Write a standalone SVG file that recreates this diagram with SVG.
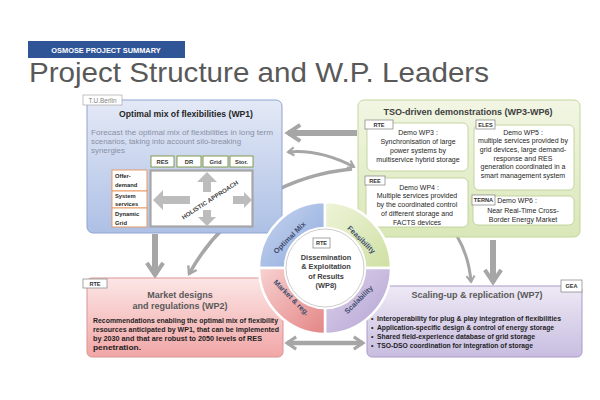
<svg xmlns="http://www.w3.org/2000/svg" width="600" height="400" viewBox="0 0 600 400">
<style>
text{font-family:"Liberation Sans",Arial,sans-serif}
.lbl{fill:#fff;stroke:#7f7f7f;stroke-width:0.7}
.lt{font-size:5.6px;font-weight:bold;fill:#333;text-anchor:middle}
.demo{fill:#fff;stroke:#b9cc8e;stroke-width:0.8}
.dt{font-size:7px;fill:#262626;text-anchor:middle}
.h{font-size:9px;font-weight:bold;fill:#595959;text-anchor:middle}
.bt{font-size:7px;font-weight:bold;fill:#1f1f1f}
.cat{fill:#fff;stroke:#77933c;stroke-width:0.9}
.ct{font-size:5.8px;font-weight:bold;fill:#333;text-anchor:middle}
.side{fill:#fff;stroke:#e6935a;stroke-width:0.9}
.st{font-size:5.8px;font-weight:bold;fill:#1f1f1f}
.hol{fill:#bcbcbc}
.con{fill:none;stroke:#a6a6a6;stroke-linecap:butt}
.seg{stroke:#fff;stroke-width:2.5}
.rt{font-size:7.4px;font-weight:bold;fill:#3f4f6f;text-anchor:middle}
.fc{font-size:7.4px;fill:#8a90a6}
</style>
<defs>
<marker id="ah" viewBox="0 0 10 10" refX="8" refY="5" markerWidth="3.4" markerHeight="3.4" orient="auto-start-reverse">
<path d="M2,1 L8,5 L2,9" fill="none" stroke="#a6a6a6" stroke-width="2" stroke-linejoin="miter"/>
</marker>
<linearGradient id="gB" x1="0" y1="0" x2="0" y2="1"><stop offset="0" stop-color="#e4e9f6"/><stop offset="1" stop-color="#adc0e5"/></linearGradient>
<linearGradient id="gG" x1="0" y1="0" x2="0" y2="1"><stop offset="0" stop-color="#f2f6e4"/><stop offset="1" stop-color="#d9e7b8"/></linearGradient>
<linearGradient id="gP" x1="0" y1="0" x2="0" y2="1"><stop offset="0" stop-color="#fce6e6"/><stop offset="1" stop-color="#f1a6a6"/></linearGradient>
<linearGradient id="gV" x1="0" y1="0" x2="0" y2="1"><stop offset="0" stop-color="#eee9f5"/><stop offset="1" stop-color="#c8bde0"/></linearGradient>
<linearGradient id="rB" x1="0" y1="0" x2="1" y2="1"><stop offset="0" stop-color="#c9d6f0"/><stop offset="1" stop-color="#8eaadc"/></linearGradient>
<linearGradient id="rG" x1="0" y1="0" x2="1" y2="1"><stop offset="0" stop-color="#eef4d9"/><stop offset="1" stop-color="#cfe0a3"/></linearGradient>
<linearGradient id="rV" x1="0" y1="0" x2="1" y2="1"><stop offset="0" stop-color="#ddd4ec"/><stop offset="1" stop-color="#b3a2d2"/></linearGradient>
<linearGradient id="rP" x1="0" y1="0" x2="1" y2="1"><stop offset="0" stop-color="#f8d2d2"/><stop offset="1" stop-color="#e48585"/></linearGradient>
</defs>

<g id="header">
<rect x="28" y="41" width="157" height="17" fill="#2f5597"/>
<text x="106" y="53" font-size="7.4" font-weight="bold" fill="#fff" text-anchor="middle">OSMOSE PROJECT SUMMARY</text>
<text x="29" y="82" font-size="28.5" fill="#595959" textLength="460" lengthAdjust="spacingAndGlyphs">Project Structure and W.P. Leaders</text>
</g>

<g id="connectors">
<path class="con" d="M357,133 L288,133" stroke-width="6" marker-end="url(#ah)"/>
<path class="con" d="M155,234 L155,275" stroke-width="6" marker-end="url(#ah)"/>
<path class="con" d="M493,240 L493,282" stroke-width="6" marker-end="url(#ah)"/>
<path class="con" d="M287,343 L363,343" stroke-width="4.5" marker-start="url(#ah)" marker-end="url(#ah)"/>
<path class="con" d="M288,152 Q320,149 354,167" stroke-width="3" marker-start="url(#ah)" marker-end="url(#ah)"/>
<path class="con" d="M352,169 C300,174 230,200 189,274" stroke-width="3.5" marker-end="url(#ah)"/>
<path class="con" d="M445,220 Q468,245 471,282" stroke-width="3" marker-end="url(#ah)"/>
</g>

<g id="wp1">
<rect x="87" y="100" width="195" height="133" rx="6" fill="url(#gB)" stroke="#8fa5d3"/>
<rect x="83" y="95" width="39" height="10" fill="#fff" stroke="#a6a6a6" stroke-width="0.7"/>
<text x="102.5" y="102.6" font-size="6.5" fill="#7f7f7f" text-anchor="middle">T.U.Berlin</text>
<text x="186" y="117" font-size="9.4" font-weight="bold" fill="#262626" text-anchor="middle" textLength="134" lengthAdjust="spacingAndGlyphs">Optimal mix of flexibilities (WP1)</text>
<text class="fc" x="91" y="135" textLength="182" lengthAdjust="spacingAndGlyphs">Forecast the optimal mix of flexibilities in long term</text>
<text class="fc" x="91" y="144" textLength="150" lengthAdjust="spacingAndGlyphs">scenarios, taking into account silo-breaking</text>
<text class="fc" x="91" y="153" textLength="34" lengthAdjust="spacingAndGlyphs">synergies</text>
<rect class="cat" x="151" y="156" width="23" height="11"/><text class="ct" x="162.5" y="163.8">RES</text>
<rect class="cat" x="177" y="156" width="24" height="11"/><text class="ct" x="189" y="163.8">DR</text>
<rect class="cat" x="203" y="156" width="25" height="11"/><text class="ct" x="215.5" y="163.8">Grid</text>
<rect class="cat" x="230" y="156" width="23" height="11"/><text class="ct" x="241.5" y="163.8">Stor.</text>
<rect x="150.5" y="170.5" width="102" height="56" fill="#fff" stroke="#a6a6a6" stroke-width="2.2"/>
<rect class="side" x="112" y="170" width="35" height="21"/>
<text class="st" x="115" y="178">Offer-</text><text class="st" x="115" y="187">demand</text>
<rect class="side" x="112" y="191" width="35" height="17"/>
<text class="st" x="115" y="198">System</text><text class="st" x="115" y="206">services</text>
<rect class="side" x="112" y="208" width="35" height="19"/>
<text class="st" x="115" y="216">Dynamic</text><text class="st" x="115" y="224.5">Grid</text>
<polygon class="hol" points="207,172 217,182 211,182 211,192 203,192 203,182 197,182"/>
<polygon class="hol" points="153,200 163,190 163,196 190,196 190,204 163,204 163,210"/>
<polygon class="hol" points="252,200 244,192 244,196 233,196 233,204 244,204 244,208"/>
<polygon class="hol" points="207,226 216,217 211,217 211,210 203,210 203,217 198,217"/>
<text x="210" y="202" font-size="6" font-weight="bold" fill="#404040" text-anchor="middle" transform="rotate(-33 210 200)" textLength="66" lengthAdjust="spacingAndGlyphs">HOLISTIC APPROACH</text>
</g>

<g id="tso">
<rect x="358" y="100" width="222" height="137" rx="6" fill="url(#gG)" stroke="#c3d69b"/>
<text x="468" y="115" font-size="9" font-weight="bold" fill="#404040" text-anchor="middle">TSO-driven demonstrations (WP3-WP6)</text>
<g id="wp3">
<rect class="demo" x="367" y="123" width="101" height="48" rx="5"/>
<rect class="lbl" x="365" y="120" width="28" height="9"/><text class="lt" x="379" y="126.8">RTE</text>
<text class="dt" x="418" y="134.5">Demo WP3 :</text>
<text class="dt" x="418" y="143.5">Synchronisation of large</text>
<text class="dt" x="418" y="152.5">power systems by</text>
<text class="dt" x="418" y="161.5">multiservice hybrid storage</text>
</g>
<g id="wp4">
<rect class="demo" x="366" y="178" width="102" height="49" rx="5"/>
<rect class="lbl" x="365" y="176" width="20" height="9"/><text class="lt" x="375" y="182.8">REE</text>
<text class="dt" x="419" y="189.5">Demo WP4 :</text>
<text class="dt" x="417" y="198.3">Multiple services provided</text>
<text class="dt" x="417" y="207.1">by the coordinated control</text>
<text class="dt" x="417" y="215.9">of different storage and</text>
<text class="dt" x="417" y="224.7">FACTS devices</text>
</g>
<g id="wp5">
<rect class="demo" x="474" y="125" width="100" height="65" rx="5"/>
<rect class="lbl" x="476" y="120" width="19" height="9"/><text class="lt" x="485.5" y="126.8">ELES</text>
<text class="dt" x="523" y="134.5">Demo WP5 :</text>
<text class="dt" x="523" y="143.2">multiple services provided by</text>
<text class="dt" x="523" y="151.9">grid devices, large demand-</text>
<text class="dt" x="523" y="160.6">response and RES</text>
<text class="dt" x="523" y="169.3">generation coordinated in a</text>
<text class="dt" x="523" y="178">smart management system</text>
</g>
<g id="wp6">
<rect class="demo" x="473" y="196" width="101" height="29" rx="5"/>
<rect class="lbl" x="472" y="195" width="23" height="10"/><text class="lt" x="483.5" y="202.3">TERNA</text>
<text class="dt" x="517" y="202.5">Demo WP6 :</text>
<text class="dt" x="523" y="212.5">Near Real-Time Cross-</text>
<text class="dt" x="523" y="221.5">Border Energy Market</text>
</g>
</g>

<g id="wp2">
<rect x="87" y="278" width="196" height="79" rx="5" fill="url(#gP)" stroke="#d99594"/>
<rect class="lbl" x="83" y="279" width="24" height="9"/><text class="lt" x="95" y="285.8">RTE</text>
<text class="h" x="180" y="298">Market designs</text>
<text class="h" x="180" y="309">and regulations (WP2)</text>
<text class="bt" x="93" y="323" textLength="185" lengthAdjust="spacingAndGlyphs">Recommendations enabling the optimal mix of flexibility</text>
<text class="bt" x="93" y="332" textLength="186" lengthAdjust="spacingAndGlyphs">resources anticipated by WP1, that can be implemented</text>
<text class="bt" x="93" y="341" textLength="169" lengthAdjust="spacingAndGlyphs">by 2030 and that are robust to 2050 levels of RES</text>
<text class="bt" x="93" y="350" textLength="48" lengthAdjust="spacingAndGlyphs">penetration.</text>
</g>

<g id="wp7">
<rect x="367" y="286" width="215" height="71" rx="5" fill="url(#gV)" stroke="#a99bc8"/>
<rect class="lbl" x="561" y="280" width="21" height="12"/><text class="lt" x="571.5" y="288">GEA</text>
<text class="h" x="477" y="298">Scaling-up &amp; replication (WP7)</text>
<text class="bt" x="371" y="321">•</text><text class="bt" x="377" y="321" textLength="184" lengthAdjust="spacingAndGlyphs">Interoperability for plug &amp; play integration of flexibilities</text>
<text class="bt" x="371" y="330">•</text><text class="bt" x="377" y="330" textLength="177" lengthAdjust="spacingAndGlyphs">Application-specific design &amp; control of energy storage</text>
<text class="bt" x="371" y="339">•</text><text class="bt" x="377" y="339" textLength="158" lengthAdjust="spacingAndGlyphs">Shared field-experience database of grid storage</text>
<text class="bt" x="371" y="348">•</text><text class="bt" x="377" y="348" textLength="156" lengthAdjust="spacingAndGlyphs">TSO-DSO coordination for integration of storage</text>
</g>

<g id="wp8">
<path class="seg" fill="url(#rB)" d="M259,268 A66,66 0 0 1 325,202 L325,228 A40,40 0 0 0 285,268 Z"/>
<path class="seg" fill="url(#rG)" d="M325,202 A66,66 0 0 1 391,268 L365,268 A40,40 0 0 0 325,228 Z"/>
<path class="seg" fill="url(#rV)" d="M391,268 A66,66 0 0 1 325,334 L325,308 A40,40 0 0 0 365,268 Z"/>
<path class="seg" fill="url(#rP)" d="M325,334 A66,66 0 0 1 259,268 L285,268 A40,40 0 0 0 325,308 Z"/>
<circle cx="325" cy="268" r="39" fill="#fff" stroke="#bfbfbf" stroke-width="0.8"/>
<text class="rt" x="290" y="240" transform="rotate(-45 290 238)">Optimal Mix</text>
<text class="rt" x="361" y="242" transform="rotate(45 361 240)">Feasibility</text>
<text class="rt" x="359" y="302" transform="rotate(-45 359 300)">Scalability</text>
<text class="rt" x="291" y="300" transform="rotate(45 291 298)">Market &amp; reg.</text>
<rect class="lbl" x="313" y="238" width="17" height="10"/><text class="lt" x="321.5" y="245.2">RTE</text>
<text x="326" y="260" font-size="7.4" font-weight="bold" fill="#404040" text-anchor="middle">Dissemination</text>
<text x="326" y="269.3" font-size="7.4" font-weight="bold" fill="#404040" text-anchor="middle">&amp; Exploitation</text>
<text x="326" y="278.6" font-size="7.4" font-weight="bold" fill="#404040" text-anchor="middle">of Results</text>
<text x="326" y="288" font-size="7.4" font-weight="bold" fill="#404040" text-anchor="middle">(WP8)</text>
</g>
</svg>
